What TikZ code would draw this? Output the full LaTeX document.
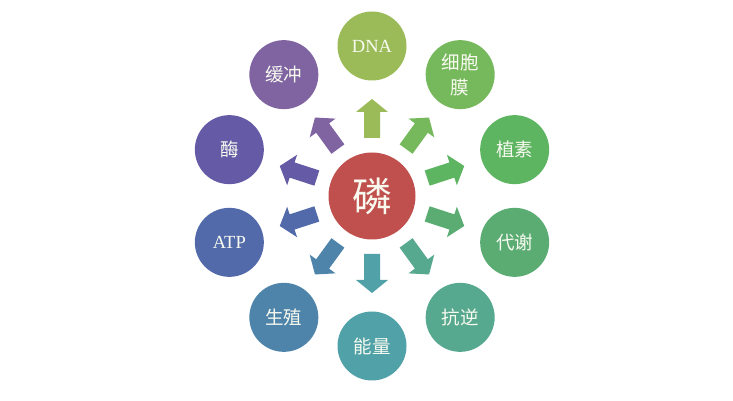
\documentclass[tikz,border=0pt]{standalone}
\usepackage{fontspec}
\usetikzlibrary{calc}
\setmainfont{Liberation Serif}
\newfontfamily\cjk{Noto Sans CJK SC}
\definecolor{cc}{RGB}{192,80,77}
\definecolor{c0}{RGB}{155,187,89}
\definecolor{c1}{RGB}{118,185,92}
\definecolor{c2}{RGB}{93,180,97}
\definecolor{c3}{RGB}{90,172,115}
\definecolor{c4}{RGB}{86,168,142}
\definecolor{c5}{RGB}{80,162,168}
\definecolor{c6}{RGB}{78,132,170}
\definecolor{c7}{RGB}{82,106,170}
\definecolor{c8}{RGB}{100,90,166}
\definecolor{c9}{RGB}{128,100,162}
\definecolor{tx}{RGB}{248,250,240}
\tikzset{
  outer/.style={circle, minimum size=69pt, inner sep=0pt, text=tx, align=center,
    font=\fontsize{18.5}{25}\selectfont\cjk},
  center/.style={circle, fill=cc, minimum size=87pt, inner sep=0pt, text=tx,
    font=\fontsize{40}{40}\selectfont\cjk},
}
\begin{document}
\begin{tikzpicture}[x=1pt,y=1pt]
\useasboundingbox (0,0) rectangle (733,401);
\coordinate (O) at (372,205);
\node[center] (P) at (O) {磷};
\foreach \i/\t in {0/{\rmfamily DNA},1/{细胞\\膜},2/{植素},3/{代谢},4/{抗逆},5/{能量},6/{生殖},7/{\rmfamily ATP},8/{酶},9/{缓冲}}{
  \pgfmathsetmacro\a{90-36*\i}
  \node[outer, fill=c\i] (n\i) at ($(O)+(\a:150)$) {\t};
  \begin{scope}[shift={(O)}, rotate=\a]
    \fill[c\i] (58,-8) -- (84,-8) -- (84,-16) -- (97,0) -- (84,16) -- (84,8) -- (58,8) -- cycle;
  \end{scope}
}
\end{tikzpicture}
\end{document}
